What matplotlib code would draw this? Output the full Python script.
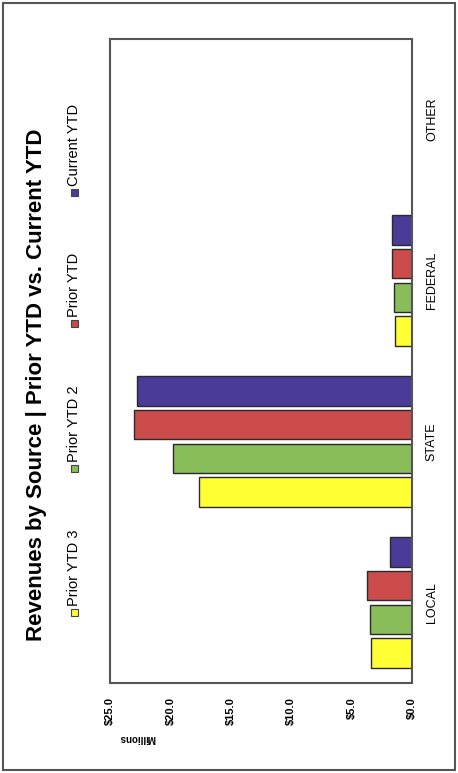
import matplotlib
matplotlib.use("Agg")
import matplotlib.pyplot as plt
from matplotlib.patches import Rectangle
import numpy as np

categories = ["LOCAL", "STATE", "FEDERAL", "OTHER"]
series_names = ["Prior YTD 3", "Prior YTD 2", "Prior YTD", "Current YTD"]
prior_ytd_3 = [3.4, 17.6, 1.4, 0.0]
prior_ytd_2 = [3.5, 19.8, 1.5, 0.0]
prior_ytd = [3.7, 23.0, 1.65, 0.0]
current_ytd = [1.8, 22.8, 1.65, 0.0]
value_ticks = [0, 5, 10, 15, 20, 25]
value_tick_labels = ["$0.0", "$5.0", "$10.0", "$15.0", "$20.0", "$25.0"]

colors = ["#ffff33", "#88bd5a", "#cc4b4b", "#4b3b98"]
series = [prior_ytd_3, prior_ytd_2, prior_ytd, current_ytd]

W, H = 458, 773
fig = plt.figure(figsize=(W / 100, H / 100), dpi=100)
fig.patch.set_facecolor("white")

FONT = ["Liberation Sans Narrow", "Liberation Sans", "DejaVu Sans"]

def fx(px):
    return px / W

def fy(py):
    return 1 - py / H

# plot frame (page is laid out sideways)
left, right, top, bottom = 110, 412, 39, 683
ax = fig.add_axes([fx(left), fy(bottom), fx(right) - fx(left), fy(top) - fy(bottom)])

y = np.arange(len(categories))
bar_h = 0.185
step = 0.21
for i, (vals, c) in enumerate(zip(series, colors)):
    ax.barh(y + (i - 1.5) * step, vals, height=bar_h, color=c,
            edgecolor="#2a2a2a", linewidth=1.0, zorder=2)

ax.set_xlim(25, 0)
ax.set_ylim(-0.5, len(categories) - 0.5)

ax.set_xticks(value_ticks)
ax.set_xticklabels(value_tick_labels, rotation=90, fontsize=8,
                   fontweight="bold", family=FONT)
ax.tick_params(axis="x", length=0, pad=10)
for lbl in ax.get_xticklabels():
    lbl.set_va("top")
    lbl.set_ha("center")

ax.yaxis.tick_right()
ax.set_yticks(y)
ax.set_yticklabels(categories, rotation=90, fontsize=9, family=FONT)
ax.tick_params(axis="y", length=0, pad=10)
for lbl in ax.get_yticklabels():
    lbl.set_va("center")

for s in ax.spines.values():
    s.set_color("#555555")
    s.set_linewidth(1.5)

# title and legend run along the left edge
fig.text(fx(37), fy(385), "Revenues by Source | Prior YTD vs. Current YTD",
         rotation=90, ha="center", va="center", fontsize=16,
         fontweight="bold", family=["Liberation Sans", "DejaVu Sans"])

legend_sq_y = [612, 468, 323, 192]
sq = 7
for name, c, sy in zip(series_names, colors, legend_sq_y):
    fig.patches.append(Rectangle((fx(74 - sq / 2), fy(sy + sq / 2)), sq / W, sq / H,
                                 transform=fig.transFigure, facecolor=c,
                                 edgecolor="#444444", linewidth=0.8))
    fig.text(fx(74), fy(sy - sq / 2 - 2), name, rotation=90, ha="center",
             va="bottom", fontsize=10.5, family=FONT)

fig.text(fx(137), fy(738), "Millions", rotation=180, ha="center", va="center",
         fontsize=7, fontweight="bold", family=FONT)

# outer page border
fig.patches.append(Rectangle((fx(3), fy(770)), fx(455) - fx(3), fy(3) - fy(770),
                             transform=fig.transFigure, fill=False,
                             edgecolor="#555555", linewidth=1.5))

fig.savefig("out.png", dpi=100)
